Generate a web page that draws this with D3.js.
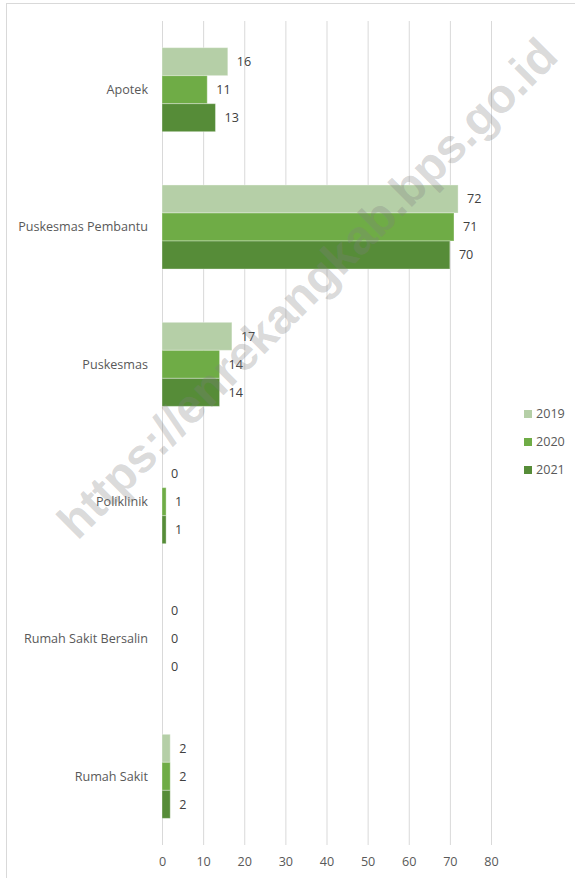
<!DOCTYPE html>
<html>
<head>
<meta charset="utf-8">
<script src="https://cdn.jsdelivr.net/npm/d3@7"></script>
<style>
  body { margin: 0; background: #fff; }
  svg { font-family: "Open Sans", "Liberation Sans", sans-serif; }
</style>
</head>
<body>
<div id="chart"></div>
<script>
var categories = ["Apotek", "Puskesmas Pembantu", "Puskesmas", "Poliklinik", "Rumah Sakit Bersalin", "Rumah Sakit"];
var years = ["2019", "2020", "2021"];
var values2019 = [16, 72, 17, 0, 0, 2];
var values2020 = [11, 71, 14, 1, 0, 2];
var values2021 = [13, 70, 14, 1, 0, 2];
var xTicks = [0, 10, 20, 30, 40, 50, 60, 70, 80];
var colors = ["#b5cfa7", "#6fac46", "#568c38"];

var width = 575, height = 878;
var series = [values2019, values2020, values2021];
var fs = 12.6;

var svg = d3.select("#chart").append("svg")
  .attr("width", width)
  .attr("height", height);

// outer chart frame
svg.append("rect")
  .attr("x", 6.5).attr("y", 3.5)
  .attr("width", width + 10).attr("height", height + 10)
  .attr("fill", "none")
  .attr("stroke", "#d9d9d9");

var x = d3.scaleLinear().domain([0, 80]).range([162, 491]);
var y = d3.scaleBand().domain(categories).range([21, 845])
  .paddingInner(0.388).paddingOuter(0.194);
var yInner = d3.scaleBand().domain(years).range([0, y.bandwidth()]);

// gridlines
svg.append("g").selectAll("line")
  .data(xTicks).enter().append("line")
  .attr("x1", function(d){ return x(d) + 0.5 })
  .attr("x2", function(d){ return x(d) + 0.5 })
  .attr("y1", 21).attr("y2", 845)
  .attr("stroke", "#d9d9d9")
  .attr("stroke-width", 1);

// bars
var groups = svg.append("g").selectAll("g")
  .data(categories).enter().append("g")
  .attr("transform", function(d){ return "translate(0," + y(d) + ")" });

groups.selectAll("rect")
  .data(function(d, i){
    return years.map(function(yr, j){ return { year: yr, value: series[j][i], idx: j } });
  })
  .enter().append("rect")
  .attr("x", x(0))
  .attr("y", function(d){ return yInner(d.year) })
  .attr("width", function(d){ return x(d.value) - x(0) })
  .attr("height", yInner.bandwidth())
  .attr("fill", function(d){ return colors[d.idx] })
  .attr("stroke", "#ffffff")
  .attr("stroke-opacity", 0.35)
  .attr("stroke-width", 1);

groups.selectAll("text")
  .data(function(d, i){
    return years.map(function(yr, j){ return { year: yr, value: series[j][i] } });
  })
  .enter().append("text")
  .attr("x", function(d){ return x(d.value) + 9 })
  .attr("y", function(d){ return yInner(d.year) + yInner.bandwidth() / 2 })
  .attr("dy", "0.35em")
  .attr("font-size", fs)
  .attr("fill", "#404040")
  .text(function(d){ return d.value });

// category labels
svg.append("g").selectAll("text")
  .data(categories).enter().append("text")
  .attr("x", 148)
  .attr("y", function(d){ return y(d) + y.bandwidth() / 2 })
  .attr("dy", "0.35em")
  .attr("text-anchor", "end")
  .attr("font-size", fs)
  .attr("fill", "#595959")
  .text(function(d){ return d });

// x axis tick labels
var xAxis = d3.axisBottom(x).tickValues(xTicks).tickSize(0).tickPadding(0);
var ax = svg.append("g").attr("transform", "translate(0,857)").call(xAxis);
ax.select(".domain").remove();
ax.selectAll("text")
  .attr("font-size", fs)
  .attr("font-family", "Open Sans, Liberation Sans, sans-serif")
  .attr("fill", "#595959");

// legend
var legend = svg.append("g").selectAll("g")
  .data(years).enter().append("g")
  .attr("transform", function(d, i){ return "translate(524," + (414 + i * 28) + ")" });
legend.append("rect")
  .attr("x", 0).attr("y", -4)
  .attr("width", 8).attr("height", 8)
  .attr("fill", function(d, i){ return colors[i] });
legend.append("text")
  .attr("x", 12).attr("y", 0)
  .attr("dy", "0.35em")
  .attr("font-size", fs)
  .attr("fill", "#595959")
  .text(function(d){ return d });

// watermark
svg.append("text")
  .attr("transform", "translate(307,288) rotate(-45)")
  .attr("text-anchor", "middle")
  .attr("dy", "0.35em")
  .attr("font-family", "Liberation Sans, Arial, sans-serif")
  .attr("font-weight", "bold")
  .attr("font-size", 48)
  .attr("fill", "#808080")
  .attr("fill-opacity", 0.3)
  .text("https://enrekangkab.bps.go.id");
</script>
</body>
</html>
